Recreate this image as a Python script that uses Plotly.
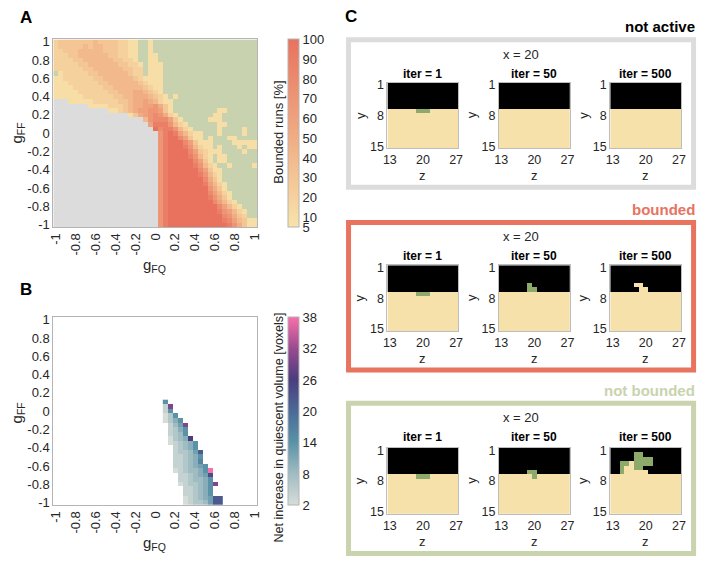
import plotly.graph_objects as go

W, H = 704, 563
FONT = "Liberation Sans, Arial, sans-serif"
TXT = "#262626"


def px(X):
    return X / W


def py(Y):
    return 1 - Y / H


# ---------------- Panel A data ----------------
G_VALUES = [-1.00, -0.95, -0.90, -0.85, -0.80, -0.75, -0.70, -0.65, -0.60, -0.55,
            -0.50, -0.45, -0.40, -0.35, -0.30, -0.25, -0.20, -0.15, -0.10, -0.05,
            0.00, 0.05, 0.10, 0.15, 0.20, 0.25, 0.30, 0.35, 0.40, 0.45,
            0.50, 0.55, 0.60, 0.65, 0.70, 0.75, 0.80, 0.85, 0.90, 0.95, 1.00]
G_TICKS = [-1, -0.8, -0.6, -0.4, -0.2, 0, 0.2, 0.4, 0.6, 0.8, 1]
G_TICKTEXT = ["-1", "-0.8", "-0.6", "-0.4", "-0.2", "0", "0.2", "0.4", "0.6", "0.8", "1"]

# rows from g_FF = 1 (top) down to g_FF = -1 ; G = not active, N = not bounded, digits = bounded %
A_ROWS = [
    "2333333343 3332211NN1 NNNNNNNNNN NNNNNNNNNN N",
    "2333334344 3332211NN1 NNNNNNNNNN NNNNNNNNNN N",
    "2233344444 3332211NN1 NNNNNNNNNN NNNNNNNNNN N",
    "2223344444 4332211NN1 1NNNNNNNNN NNNNNNNNNN N",
    "2222334444 4433221NN1 1NNNNNNNNN NNNNNNNNNN N",
    "2222233444 44433221N1 11NNNNNNNN NNNNNNNNNN N",
    "2222223344 44443322N1 11NNNNNNNN NNNNNNNNNN N",
    "N122222334 44444322N1 11NNNNNNNN NNNNNNNNNN N",
    "1122222233 4444443211 11NNNNNNNN NNNNNNNNNN N",
    "1112222223 3444444321 11NNNNNNNN NNNNNNNNNN N",
    "1111222222 3344444432 11NNNNNNNN NNNNNNNNNN N",
    "1111122222 2334445543 21NNNNNNNN NNNNNNNNNN N",
    "1111112222 2233445554 321N1NNNNN NNNNNNNNNN N",
    "GGG1111122 2223345565 4211NNNNNN NNNNNNNNNN N",
    "GGGGGGG111 1222345566 7531NNNNNN NNNNNNNNNN N",
    "GGGGGGGGGG G112345667 7631NNNNNN NNN11NNNNN N",
    "GGGGGGGGGG GGGGG13567 87521NNNNN NN11NNNNNN N",
    "GGGGGGGGGG GGGGGGGG47 888631NNNN N111NNNNNN N",
    "GGGGGGGGGG GGGGGGGGG6 9997421NNN NNN11NNNNN N",
    "GGGGGGGGGG GGGGGGGGGG X8997421NN NNN1NNNN1N N",
    "GGGGGGGGGG GGGGGGGGGG G79X964211 NNN1NNNN1N N",
    "GGGGGGGGGG GGGGGGGGGG G79XX86311 N1NNN11NNN N",
    "GGGGGGGGGG GGGGGGGGGG G79XXX8631 11NNNN1111 1",
    "GGGGGGGGGG GGGGGGGGGG G79XXX9742 11N1NNN1N1 1",
    "GGGGGGGGGG GGGGGGGGGG G79XXXX863 2111NNNN1N N",
    "GGGGGGGGGG GGGGGGGGGG G79XXXX974 21N11NNNNN N",
    "GGGGGGGGGG GGGGGGGGGG G79XXXXX86 31N11NNNNN N",
    "GGGGGGGGGG GGGGGGGGGG G79XXXXX97 421NN1NNNN 1",
    "GGGGGGGGGG GGGGGGGGGG G79XXXXXX8 6311NNNNNN N",
    "GGGGGGGGGG GGGGGGGGGG G79XXXXXX9 7421NNNNNN N",
    "GGGGGGGGGG GGGGGGGGGG G79XXXXXXX 8531NNNNNN N",
    "GGGGGGGGGG GGGGGGGGGG G79XXXXXXX 96421NNNNN N",
    "GGGGGGGGGG GGGGGGGGGG G79XXXXXXX X7531NNNNN N",
    "GGGGGGGGGG GGGGGGGGGG G79XXXXXXX X86421NNNN N",
    "GGGGGGGGGG GGGGGGGGGG G79XXXXXXX X97531NNNN N",
    "GGGGGGGGGG GGGGGGGGGG G79XXXXXXX XX86421NNN N",
    "GGGGGGGGGG GGGGGGGGGG G79XXXXXXX XXX86421NN N",
    "GGGGGGGGGG GGGGGGGGGG G79XXXXXXX XXX976421N N",
    "GGGGGGGGGG GGGGGGGGGG G79XXXXXXX XXXX87532N N",
    "GGGGGGGGGG GGGGGGGGGG G79XXXXXXX XXXX986431 1",
    "GGGGGGGGGG GGGGGGGGGG G79XXXXXXX XXXXX97531 1",
]
A_LEVEL = {'1': 10, '2': 20, '3': 30, '4': 40, '5': 50, '6': 60,
           '7': 70, '8': 80, '9': 90, 'X': 100}
A_CB_TICKS = [5, 10, 20, 30, 40, 50, 60, 70, 80, 90, 100]

# ---------------- Panel B data ----------------
B_X = [0.10, 0.15, 0.20, 0.25, 0.30, 0.35, 0.40, 0.45, 0.50, 0.55, 0.60, 0.65]
B_Y = [0.10, 0.05, 0.00, -0.05, -0.10, -0.15, -0.20, -0.25, -0.30, -0.35, -0.40,
       -0.45, -0.50, -0.55, -0.60, -0.65, -0.70, -0.75, -0.80, -0.85, -0.90,
       -0.95, -1.00]
B_ROWS = [
    "7...........",
    "2F..........",
    "27..........",
    "137.........",
    "1357........",
    ".246F.......",
    ".2357.......",
    ".2347.......",
    ".1345D......",
    ".123457.....",
    "..23457.....",
    "..23346B....",
    "..223457....",
    "..223458....",
    "..2234567...",
    "..1234457P..",
    "...223456C..",
    "...2234457..",
    "...1233457F.",
    "....223457..",
    "....223457..",
    "....123456BB",
    "....123346BB",
]
B_LEVEL = {'1': 2, '2': 4, '3': 6, '4': 8, '5': 10, '6': 12, '7': 14, '8': 16,
           '9': 18, 'A': 20, 'B': 22, 'C': 24, 'D': 26, 'E': 28, 'F': 30, 'P': 38}
B_CB_TICKS = [2, 8, 14, 20, 26, 32, 38]

# ---------------- Panel C data ----------------
C_ZCOORD = [13, 14, 15, 16, 17, 18, 19, 20, 21, 22, 23, 24, 25, 26, 27]
C_YCOORD = [1, 2, 3, 4, 5, 6, 7, 8, 9, 10, 11, 12, 13, 14, 15]
C_LAST_EMPTY_ROW = 6  # rows y=1..6 empty (black), y>=7 tissue (tan)
C_TITLES = ["iter = 1", "iter = 50", "iter = 500"]

NOTACTIVE_GREEN = [[(19, 7), (20, 7), (21, 7)], [], []]
NOTACTIVE_TAN = [[], [], []]
BOUNDED_GREEN = [[(19, 7), (20, 7), (21, 7)], [(19, 5), (19, 6), (20, 6)], []]
BOUNDED_TAN = [[], [], [(18, 5), (19, 5), (19, 6), (20, 6)]]
NOTBOUNDED_GREEN = [[(19, 7), (20, 7), (21, 7)], [(19, 6), (20, 6), (20, 7)],
                    [(18, 2), (19, 2),
                     (18, 3), (19, 3), (20, 3), (21, 3),
                     (15, 4), (16, 4), (18, 4), (19, 4), (20, 4), (21, 4),
                     (15, 5), (18, 5), (19, 5),
                     (15, 6)]]
NOTBOUNDED_TAN = [[], [], [(17, 4), (16, 5), (17, 5),
                           (16, 6), (17, 6), (18, 6), (19, 6), (20, 6)]]

C_BOXES = [
    ("not active", "#DCDCDC", "#000000", NOTACTIVE_GREEN, NOTACTIVE_TAN),
    ("bounded", "#E8735F", "#E8735F", BOUNDED_GREEN, BOUNDED_TAN),
    ("not bounded", "#C9D3AE", "#C9D3AE", NOTBOUNDED_GREEN, NOTBOUNDED_TAN),
]

# ---------------- colours ----------------
GREY = "#DCDCDC"
GREEN_A = "#C9D2AF"
A_SCALE = [[0, "#F8E3AA"], [0.5, "#F0AA82"], [1, "#E8725E"]]
B_SCALE = [[0, "#D6DDD9"], [1 / 6, "#A0BCC3"], [2 / 6, "#5A92A8"], [3 / 6, "#4B6A97"],
           [4 / 6, "#4A3D7E"], [5 / 6, "#9A4B90"], [1, "#F86FAA"]]
C_BLACK = "#000000"
C_TAN = "#F6E1AB"
C_GREEN = "#8EAA6A"

fig = go.Figure()

# ---------------- Panel A ----------------
rowsA = [s.replace(" ", "") for s in A_ROWS][::-1]  # bottom -> top
yA = G_VALUES
zval = [[A_LEVEL.get(ch) for ch in row] for row in rowsA]
zgrey = [[1 if ch == 'G' else None for ch in row] for row in rowsA]
zgreen = [[1 if ch == 'N' else None for ch in row] for row in rowsA]

fig.add_trace(go.Heatmap(x=G_VALUES, y=yA, z=zgrey, colorscale=[[0, GREY], [1, GREY]],
                         showscale=False, hoverinfo="skip", xaxis="x", yaxis="y"))
fig.add_trace(go.Heatmap(x=G_VALUES, y=yA, z=zgreen, colorscale=[[0, GREEN_A], [1, GREEN_A]],
                         showscale=False, hoverinfo="skip", xaxis="x", yaxis="y"))
fig.add_trace(go.Heatmap(
    x=G_VALUES, y=yA, z=zval, colorscale=A_SCALE, zmin=5, zmax=100, hoverinfo="skip",
    xaxis="x", yaxis="y",
    colorbar=dict(x=px(287), xanchor="left", y=py(35), yanchor="top",
                  len=191 / H, lenmode="fraction", thickness=11, thicknessmode="pixels",
                  xpad=0, ypad=0, outlinewidth=1, outlinecolor="#B4B4B4",
                  tickvals=A_CB_TICKS, ticks="",
                  tickfont=dict(family=FONT, size=13, color=TXT))))

# ---------------- Panel B ----------------
rowsB = B_ROWS[::-1]
yB = B_Y[::-1]
zB = [[B_LEVEL.get(ch) for ch in row] for row in rowsB]
fig.add_trace(go.Heatmap(
    x=B_X, y=yB, z=zB, colorscale=B_SCALE, zmin=2, zmax=38, hoverinfo="skip",
    xaxis="x2", yaxis="y2",
    colorbar=dict(x=px(287), xanchor="left", y=py(318), yanchor="top",
                  len=191 / H, lenmode="fraction", thickness=11, thicknessmode="pixels",
                  xpad=0, ypad=0, outlinewidth=1, outlinecolor="#B4B4B4",
                  tickvals=B_CB_TICKS, ticks="",
                  tickfont=dict(family=FONT, size=13, color=TXT))))

axis_common = dict(showgrid=False, zeroline=False, showline=True, mirror=True,
                   linecolor="#B4B4B4", linewidth=1, ticks="",
                   tickfont=dict(family=FONT, size=13, color=TXT))
layout = dict(
    xaxis=dict(domain=[px(49), px(256)], anchor="y", range=[-1.025, 1.025],
               tickvals=G_TICKS, ticktext=G_TICKTEXT, tickangle=-90, **axis_common),
    yaxis=dict(domain=[py(226), py(35)], anchor="x", range=[-1.025, 1.025],
               tickvals=G_TICKS, ticktext=G_TICKTEXT, **axis_common),
    xaxis2=dict(domain=[px(49), px(256)], anchor="y2", range=[-1.025, 1.025],
                tickvals=G_TICKS, ticktext=G_TICKTEXT, tickangle=-90, **axis_common),
    yaxis2=dict(domain=[py(509), py(318)], anchor="x2", range=[-1.025, 1.025],
                tickvals=G_TICKS, ticktext=G_TICKTEXT, **axis_common),
)

annotations = []
shapes = []


def ann(text, X, Y, size=13, bold=False, color=TXT, angle=0, xanchor="center", yanchor="middle"):
    if bold:
        text = "<b>" + text + "</b>"
    annotations.append(dict(text=text, x=px(X), y=py(Y), xref="paper", yref="paper",
                            showarrow=False, textangle=angle, xanchor=xanchor, yanchor=yanchor,
                            borderpad=0,
                            font=dict(family=FONT, size=size, color=color)))


ann("A", 14, 13, size=17, bold=True, color="#000000", xanchor="left")
ann("B", 14, 290, size=17, bold=True, color="#000000", xanchor="left")
ann("C", 344, 12, size=17, bold=True, color="#000000", xanchor="left")
ann("g<sub>FF</sub>", 13, 130, size=15, angle=-90)
ann("g<sub>FQ</sub>", 152, 265, size=15)
ann("g<sub>FF</sub>", 13, 415, size=15, angle=-90)
ann("g<sub>FQ</sub>", 152, 548, size=15)
ann("Bounded runs [%]", 278, 130, size=13, angle=-90)
ann("Net increase in quiescent volume [voxels]", 278, 430, size=12.5, angle=-90)

# ---------------- Panel C ----------------
BOX_TOPS = [33, 219, 403]
BOX_BOTTOMS = [188, 374, 561]
IMG_TOPS = [79, 265, 451]
IMG_H = 67
IMG_LEFTS = [388, 501, 614]
IMG_W = 72

ax_n = 3
for b, (label, bcol, lcol, greens, tans) in enumerate(C_BOXES):
    top, bot = BOX_TOPS[b], BOX_BOTTOMS[b]
    shapes.append(dict(type="rect", xref="paper", yref="paper",
                       x0=px(348.5), x1=px(698.5), y0=py(bot - 2.5), y1=py(top + 2.5),
                       line=dict(color=bcol, width=5), fillcolor="rgba(0,0,0,0)"))
    ann(label, 701, top - 11, size=15, bold=True, color=lcol, xanchor="right")
    ann("x = 20", 523, top + 17, size=13)
    for k in range(3):
        z = []
        for yy in C_YCOORD:
            row = []
            for zz in C_ZCOORD:
                v = 0 if yy <= C_LAST_EMPTY_ROW else 1
                if (zz, yy) in tans[k]:
                    v = 1
                if (zz, yy) in greens[k]:
                    v = 2
                row.append(v)
            z.append(row)
        xa, ya = "x%d" % ax_n, "y%d" % ax_n
        fig.add_trace(go.Heatmap(
            x=C_ZCOORD, y=C_YCOORD, z=z, zmin=0, zmax=2, showscale=False, hoverinfo="skip",
            colorscale=[[0, C_BLACK], [0.25, C_BLACK], [0.25, C_TAN], [0.75, C_TAN],
                        [0.75, C_GREEN], [1, C_GREEN]],
            xaxis=xa, yaxis=ya))
        x0 = IMG_LEFTS[k]
        y0 = IMG_TOPS[b]
        small = dict(showgrid=False, zeroline=False, showline=True, mirror=True,
                     linecolor="#BDBDBD", linewidth=1, ticks="",
                     tickfont=dict(family=FONT, size=12.5, color=TXT))
        layout["xaxis%d" % ax_n] = dict(domain=[px(x0), px(x0 + IMG_W)], anchor=ya,
                                        range=[12.5, 27.5], tickvals=[13, 20, 27], **small)
        layout["yaxis%d" % ax_n] = dict(domain=[py(y0 + IMG_H), py(y0)], anchor=xa,
                                        range=[15.5, 0.5], tickvals=[1, 8, 15], **small)
        ann(C_TITLES[k], x0 + IMG_W / 2, top + 37, size=12, bold=True, color="#000000")
        ann("z", x0 + IMG_W / 2, y0 + 95, size=13)
        ann("y", x0 - 28, y0 + 33, size=13, angle=-90)
        ax_n += 1

fig.update_layout(
    width=W, height=H, margin=dict(l=0, r=0, t=0, b=0),
    paper_bgcolor="white", plot_bgcolor="white", showlegend=False,
    annotations=annotations, shapes=shapes,
    font=dict(family=FONT, color=TXT), **layout)

fig.write_html("out.html", config={"displayModeBar": False},
               post_script="document.body.style.margin='0';document.body.style.padding='0';")
